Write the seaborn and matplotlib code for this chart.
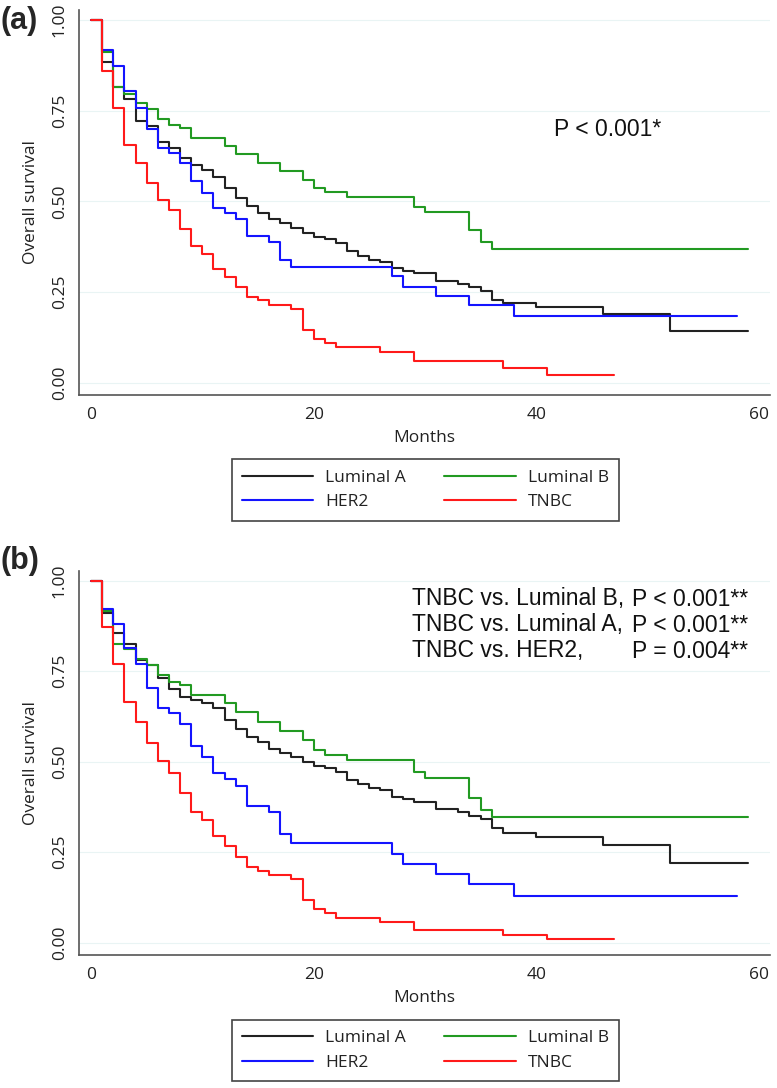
import numpy as np
import pandas as pd
import matplotlib
matplotlib.use("Agg")
import matplotlib.pyplot as plt
from matplotlib.lines import Line2D
import seaborn as sns

# ---------------- data ----------------
groups = ["Luminal A", "Luminal B", "HER2", "TNBC"]
colors = {"Luminal A": "#222222", "Luminal B": "#229a22", "HER2": "#1414ff", "TNBC": "#ff1a1a"}

# Panel (a)
a_lumA_t = [0, 1, 2, 3, 4, 5, 6, 7, 8, 9, 10, 11, 12, 13, 14, 15, 16, 17, 18, 19, 20, 21, 22, 23, 24, 25, 26, 27, 28, 29, 31, 33, 34, 35, 36, 37, 40, 46, 52, 59]
a_lumA_s = [1.0, 0.883, 0.815, 0.781, 0.722, 0.708, 0.665, 0.646, 0.619, 0.599, 0.587, 0.568, 0.538, 0.508, 0.488, 0.469, 0.451, 0.440, 0.426, 0.414, 0.401, 0.396, 0.386, 0.364, 0.350, 0.339, 0.333, 0.316, 0.309, 0.302, 0.281, 0.272, 0.265, 0.253, 0.229, 0.220, 0.208, 0.190, 0.143, 0.143]
a_lumB_t = [0, 1, 2, 3, 4, 5, 6, 7, 8, 9, 12, 13, 15, 17, 19, 20, 21, 23, 29, 30, 34, 35, 36, 59]
a_lumB_s = [1.0, 0.913, 0.815, 0.796, 0.772, 0.754, 0.727, 0.711, 0.702, 0.676, 0.653, 0.630, 0.607, 0.584, 0.560, 0.537, 0.525, 0.513, 0.485, 0.470, 0.421, 0.388, 0.369, 0.369]
a_her2_t = [0, 1, 2, 3, 4, 5, 6, 7, 8, 9, 10, 11, 12, 13, 14, 16, 17, 18, 27, 28, 31, 34, 38, 58]
a_her2_s = [1.0, 0.917, 0.873, 0.805, 0.757, 0.699, 0.646, 0.633, 0.607, 0.557, 0.524, 0.483, 0.467, 0.452, 0.405, 0.388, 0.338, 0.318, 0.293, 0.265, 0.240, 0.215, 0.183, 0.183]
a_tnbc_t = [0, 1, 2, 3, 4, 5, 6, 7, 8, 9, 10, 11, 12, 13, 14, 15, 16, 18, 19, 20, 21, 22, 26, 29, 37, 41, 47]
a_tnbc_s = [1.0, 0.859, 0.757, 0.656, 0.605, 0.551, 0.504, 0.477, 0.423, 0.377, 0.354, 0.314, 0.290, 0.263, 0.236, 0.227, 0.215, 0.204, 0.144, 0.120, 0.109, 0.097, 0.084, 0.060, 0.040, 0.020, 0.020]

# Panel (b)
b_lumA_t = [0, 1, 2, 3, 4, 5, 6, 7, 8, 9, 10, 11, 12, 13, 14, 15, 16, 17, 18, 19, 20, 21, 22, 23, 24, 25, 26, 27, 28, 29, 31, 33, 34, 35, 36, 37, 40, 46, 52, 59]
b_lumA_s = [1.0, 0.912, 0.856, 0.825, 0.781, 0.767, 0.732, 0.701, 0.680, 0.671, 0.661, 0.649, 0.615, 0.590, 0.569, 0.555, 0.534, 0.523, 0.513, 0.500, 0.488, 0.482, 0.472, 0.449, 0.438, 0.427, 0.422, 0.402, 0.396, 0.390, 0.368, 0.360, 0.351, 0.342, 0.316, 0.304, 0.293, 0.270, 0.219, 0.219]
b_lumB_t = [0, 1, 2, 3, 4, 5, 6, 7, 8, 9, 12, 13, 15, 17, 19, 20, 21, 23, 29, 30, 34, 35, 36, 59]
b_lumB_s = [1.0, 0.915, 0.825, 0.810, 0.783, 0.767, 0.740, 0.721, 0.712, 0.684, 0.661, 0.638, 0.611, 0.586, 0.559, 0.532, 0.519, 0.505, 0.472, 0.454, 0.400, 0.367, 0.346, 0.346]
b_her2_t = [0, 1, 2, 3, 4, 5, 6, 7, 8, 9, 10, 11, 12, 13, 14, 16, 17, 18, 27, 28, 31, 34, 38, 58]
b_her2_s = [1.0, 0.922, 0.880, 0.813, 0.769, 0.703, 0.647, 0.634, 0.604, 0.544, 0.514, 0.468, 0.451, 0.432, 0.378, 0.360, 0.300, 0.275, 0.245, 0.217, 0.190, 0.161, 0.129, 0.129]
b_tnbc_t = [0, 1, 2, 3, 4, 5, 6, 7, 8, 9, 10, 11, 12, 13, 14, 15, 16, 18, 19, 20, 21, 22, 26, 29, 37, 41, 47]
b_tnbc_s = [1.0, 0.871, 0.769, 0.664, 0.611, 0.551, 0.503, 0.469, 0.413, 0.362, 0.339, 0.296, 0.267, 0.238, 0.208, 0.198, 0.187, 0.177, 0.118, 0.093, 0.081, 0.067, 0.058, 0.035, 0.021, 0.010, 0.010]

y_ticks = [0.0, 0.25, 0.5, 0.75, 1.0]
y_ticklabels = ["0.00", "0.25", "0.50", "0.75", "1.00"]
x_ticks = [0, 20, 40, 60]

annot_a = "P < 0.001*"
annot_b_left = ["TNBC vs. Luminal B,", "TNBC vs. Luminal A,", "TNBC vs. HER2,"]
annot_b_right = ["P < 0.001**", "P < 0.001**", "P = 0.004**"]


def make_df(series):
    rows = []
    for g, (t, s) in series.items():
        for ti, si in zip(t, s):
            rows.append({"Months": ti, "Survival": si, "Group": g})
    return pd.DataFrame(rows)


df_a = make_df({"Luminal A": (a_lumA_t, a_lumA_s), "Luminal B": (a_lumB_t, a_lumB_s),
                 "HER2": (a_her2_t, a_her2_s), "TNBC": (a_tnbc_t, a_tnbc_s)})
df_b = make_df({"Luminal A": (b_lumA_t, b_lumA_s), "Luminal B": (b_lumB_t, b_lumB_s),
                 "HER2": (b_her2_t, b_her2_s), "TNBC": (b_tnbc_t, b_tnbc_s)})

# ---------------- style ----------------
sns.set_theme(style="white")
plt.rcParams["font.family"] = ["Open Sans", "DejaVu Sans"]

W, H = 777, 1088
fig = plt.figure(figsize=(W / 100, H / 100), dpi=100)


def px_rect(left, top, right, bottom):
    return [left / W, 1 - bottom / H, (right - left) / W, (bottom - top) / H]


ax_a = fig.add_axes(px_rect(79, 10, 770, 395))
ax_b = fig.add_axes(px_rect(79, 570.7, 770, 955))

axis_col = "#555555"
FS = 12.5
for ax, df in [(ax_a, df_a), (ax_b, df_b)]:
    for yv in y_ticks:
        ax.axhline(yv, color="#e9f4f4", lw=0.8, zorder=0)
    sns.lineplot(data=df, x="Months", y="Survival", hue="Group", hue_order=groups,
                 palette=colors, drawstyle="steps-post", estimator=None, sort=True,
                 linewidth=1.5, legend=False, ax=ax, zorder=3)
    ax.set_xlim(-1.08, 61.0)
    ax.set_ylim(-0.034, 1.0276)
    ax.set_xticks(x_ticks)
    ax.set_yticks(y_ticks)
    ax.set_yticklabels(y_ticklabels, rotation=90, va="center")
    ax.tick_params(axis="both", which="major", labelsize=FS, colors="#222222",
                   length=5, width=1.0, direction="out")
    ax.tick_params(axis="y", pad=3)
    ax.tick_params(axis="x", pad=3.5)
    for t in ax.get_yticklabels() + ax.get_xticklabels():
        t.set_color("#222222")
    ax.tick_params(axis="both", color=axis_col)
    ax.set_xlabel("Months", fontsize=FS, color="#222222", labelpad=5.5)
    ax.set_ylabel("Overall survival", fontsize=FS, color="#222222", labelpad=9.5)
    for side in ["top", "right"]:
        ax.spines[side].set_visible(False)
    for side in ["left", "bottom"]:
        ax.spines[side].set_color(axis_col)
        ax.spines[side].set_linewidth(1.2)
    ax.grid(False)
    ax.set_facecolor("white")

# annotations
AFS = 16.5
fig.text(554 / W, 1 - 130 / H, annot_a, ha="left", va="center",
         fontsize=AFS, family=["Liberation Sans", "DejaVu Sans"], color="#111111")
for i, (l, r) in enumerate(zip(annot_b_left, annot_b_right)):
    yy = 1 - (599 + 26 * i) / H
    fig.text(411.7 / W, yy, l, ha="left", va="center", fontsize=AFS,
             family=["Liberation Sans", "DejaVu Sans"], color="#111111")
    fig.text(631.7 / W, yy, r, ha="left", va="center", fontsize=AFS,
             family=["Liberation Sans", "DejaVu Sans"], color="#111111")

# panel labels
fig.text(1 / W, 1 - 21 / H, "(a)", ha="left", va="center", fontsize=22, fontweight="bold",
         family=["Liberation Sans", "DejaVu Sans"])
fig.text(1 / W, 1 - 561 / H, "(b)", ha="left", va="center", fontsize=22, fontweight="bold",
         family=["Liberation Sans", "DejaVu Sans"])

# legends
handles = [Line2D([], [], color=colors[g], lw=1.5) for g in ["Luminal A", "HER2", "Luminal B", "TNBC"]]
labels = ["Luminal A", "HER2", "Luminal B", "TNBC"]
for cy in [490, 1050.5]:
    leg = fig.legend(handles, labels, loc="center", bbox_to_anchor=(425.5 / W, 1 - cy / H),
                     ncol=2, fontsize=FS, handlelength=4.1, handletextpad=0.7,
                     columnspacing=2.2, labelspacing=0.48, borderpad=0.6,
                     frameon=True, fancybox=False, framealpha=1, edgecolor="#444444")
    leg.get_frame().set_linewidth(1.2)
    for t in leg.get_texts():
        t.set_color("#222222")

fig.savefig("out.png", dpi=100)
